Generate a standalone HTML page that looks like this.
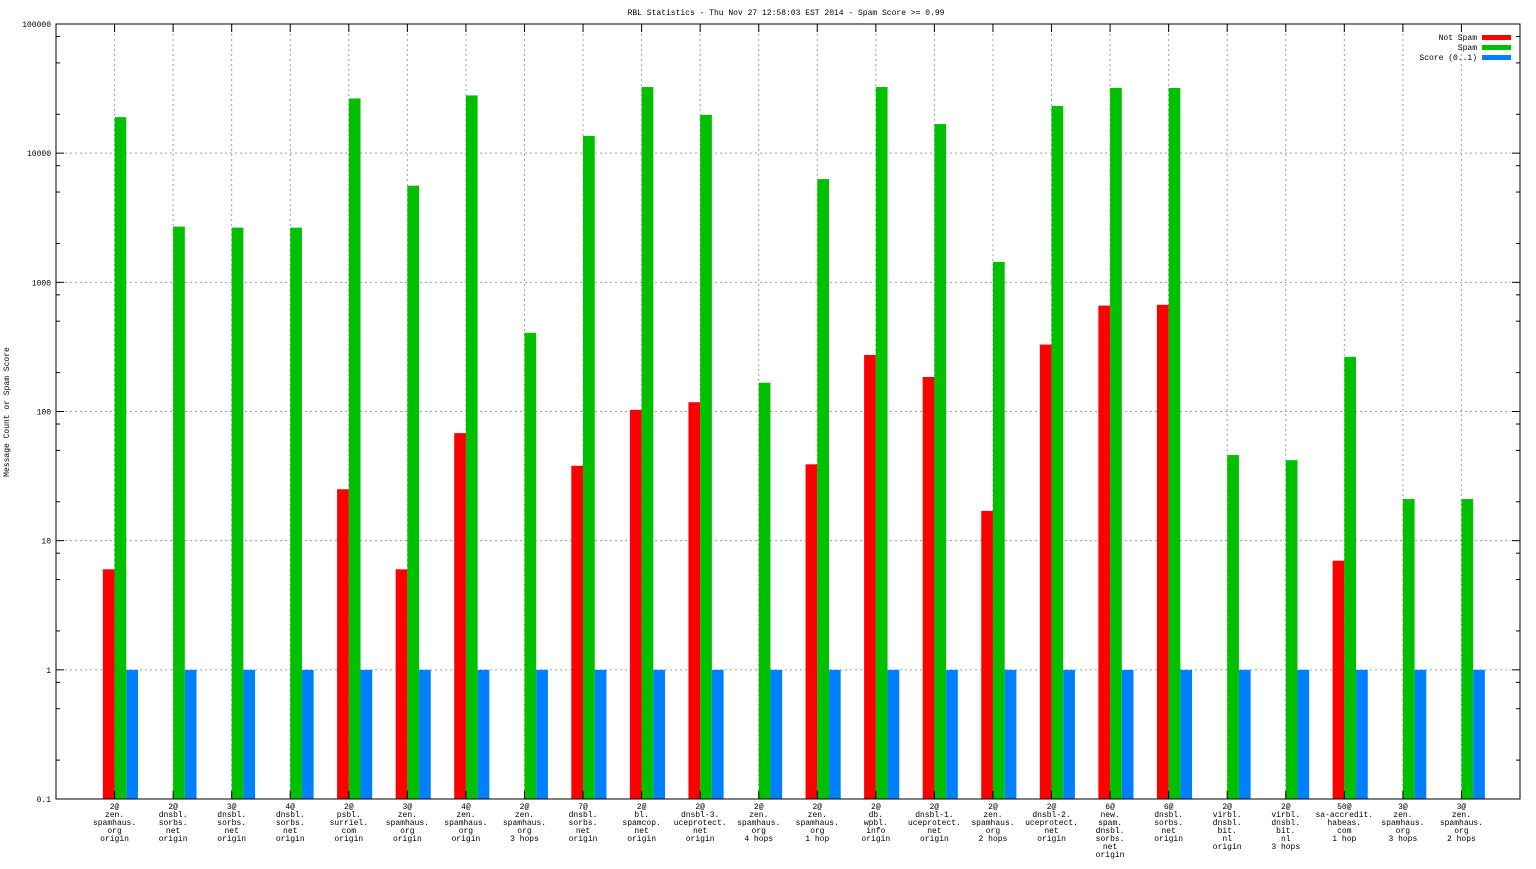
<!DOCTYPE html>
<html><head><meta charset="utf-8"><style>
body{margin:0;background:#fff;}
svg text{font-family:"Liberation Mono",monospace;font-size:8px;fill:#000;}
</style></head><body>
<svg id="chart" width="1536" height="864" xmlns="http://www.w3.org/2000/svg">
<text x="786" y="15" text-anchor="middle">RBL Statistics - Thu Nov 27 12:58:03 EST 2014 - Spam Score &gt;= 0.99</text>
<text transform="translate(9,412) rotate(-90)" text-anchor="middle">Message Count or Spam Score</text>
<g id="grid"></g><g id="bars"></g><g id="axes"></g>
<g>
<text x="1477" y="40" text-anchor="end">Not Spam</text>
<rect x="1482" y="35" width="29" height="5" fill="#ff0000"/>
<text x="1477" y="50" text-anchor="end">Spam</text>
<rect x="1482" y="45" width="29" height="5" fill="#00c000"/>
<text x="1477" y="60" text-anchor="end">Score (0..1)</text>
<rect x="1482" y="55" width="29" height="5" fill="#0080ff"/>
</g>
</svg>
<script>
const categories=[
["2@","zen.","spamhaus.","org","origin"],["2@","dnsbl.","sorbs.","net","origin"],["3@","dnsbl.","sorbs.","net","origin"],["4@","dnsbl.","sorbs.","net","origin"],
["2@","psbl.","surriel.","com","origin"],["3@","zen.","spamhaus.","org","origin"],["4@","zen.","spamhaus.","org","origin"],["2@","zen.","spamhaus.","org","3 hops"],
["7@","dnsbl.","sorbs.","net","origin"],["2@","bl.","spamcop.","net","origin"],["2@","dnsbl-3.","uceprotect.","net","origin"],["2@","zen.","spamhaus.","org","4 hops"],
["2@","zen.","spamhaus.","org","1 hop"],["2@","db.","wpbl.","info","origin"],["2@","dnsbl-1.","uceprotect.","net","origin"],["2@","zen.","spamhaus.","org","2 hops"],
["2@","dnsbl-2.","uceprotect.","net","origin"],["6@","new.","spam.","dnsbl.","sorbs.","net","origin"],["6@","dnsbl.","sorbs.","net","origin"],["2@","virbl.","dnsbl.","bit.","nl","origin"],
["2@","virbl.","dnsbl.","bit.","nl","3 hops"],["50@","sa-accredit.","habeas.","com","1 hop"],["3@","zen.","spamhaus.","org","3 hops"],["3@","zen.","spamhaus.","org","2 hops"]];
const notSpam=[6,null,null,null,25,6,68,null,38,103,118,null,39,274,185,17,330,660,670,null,null,7,null,null];
const spam=[19000,2700,2650,2650,26500,5600,28000,407,13600,32500,19800,167,6300,32500,16800,1440,23200,32000,32000,46,42,265,21,21];
const score=[1,1,1,1,1,1,1,1,1,1,1,1,1,1,1,1,1,1,1,1,1,1,1,1];
const yTicks=[0.1,1,10,100,1000,10000,100000];
const yTickLabels=["0.1","1","10","100","1000","10000","100000"];
const minorMult=[2,5,8];
const L=56,R=1520,T=24,B=799;
const X=v=>L+(R-L)*v/25;
const Y=v=>B-(B-T)*(Math.log10(v)+1)/6;
const NS="http://www.w3.org/2000/svg";
function mk(tag,attrs,parent){const e=document.createElementNS(NS,tag);for(const k in attrs)e.setAttribute(k,attrs[k]);parent.appendChild(e);return e;}
const grid=document.getElementById('grid'),bars=document.getElementById('bars'),axes=document.getElementById('axes');
yTicks.forEach((t,i)=>{
 const y=Y(t);
 if(i>0&&i<yTicks.length-1){const g=mk('line',{x1:L+9,x2:R-9,y1:y,y2:y,stroke:'#a0a0a0','stroke-dasharray':'2,3','stroke-width':1},grid);
 
 }
 const tl=mk('text',{x:L-5,y:y+3,'text-anchor':'end'},axes);tl.textContent=yTickLabels[i];
 
 
 mk('line',{x1:L,x2:L+8,y1:y,y2:y,stroke:'#000'},axes);
 mk('line',{x1:R,x2:R-8,y1:y,y2:y,stroke:'#000'},axes);
 if(i<yTicks.length-1)minorMult.forEach(m=>{const ym=Y(t*m);
 mk('line',{x1:L,x2:L+4,y1:ym,y2:ym,stroke:'#000'},axes);mk('line',{x1:R,x2:R-4,y1:ym,y2:ym,stroke:'#000'},axes);});
});
categories.forEach((c,i)=>{
 const cx=X(i+1);
 const g=mk('line',{x1:cx,x2:cx,y1:T,y2:B,stroke:'#a0a0a0','stroke-dasharray':'2,3'},grid);
 
 
 mk('line',{x1:cx,x2:cx,y1:B,y2:B-8,stroke:'#000'},axes);
 mk('line',{x1:cx,x2:cx,y1:T,y2:T+8,stroke:'#000'},axes);
 const t=mk('text',{x:cx,y:B+10,'text-anchor':'middle'},axes);
 
 
 c.forEach((line,j)=>{const s=mk('tspan',{x:cx,dy:j?8:0},t);s.textContent=line;});
 const series=[[notSpam[i],'#ff0000','not-spam-bar',-0.2],[spam[i],'#00c000','spam-bar',0],[score[i],'#0080ff','score-bar',0.2]];
 series.forEach(([v,col,nm,off])=>{
  if(v==null)return;
  const x0=X(i+1+off),x1=X(i+1+off+0.2),y=Math.min(Y(v),B);
  const r=mk('rect',{x:x0,y:y,width:x1-x0,height:B-y,fill:col},bars);
  
  
 });
});
const fr=mk('rect',{x:L,y:T,width:R-L,height:B-T,fill:'none',stroke:'#000','stroke-width':1},axes);


</script>
</body></html>
